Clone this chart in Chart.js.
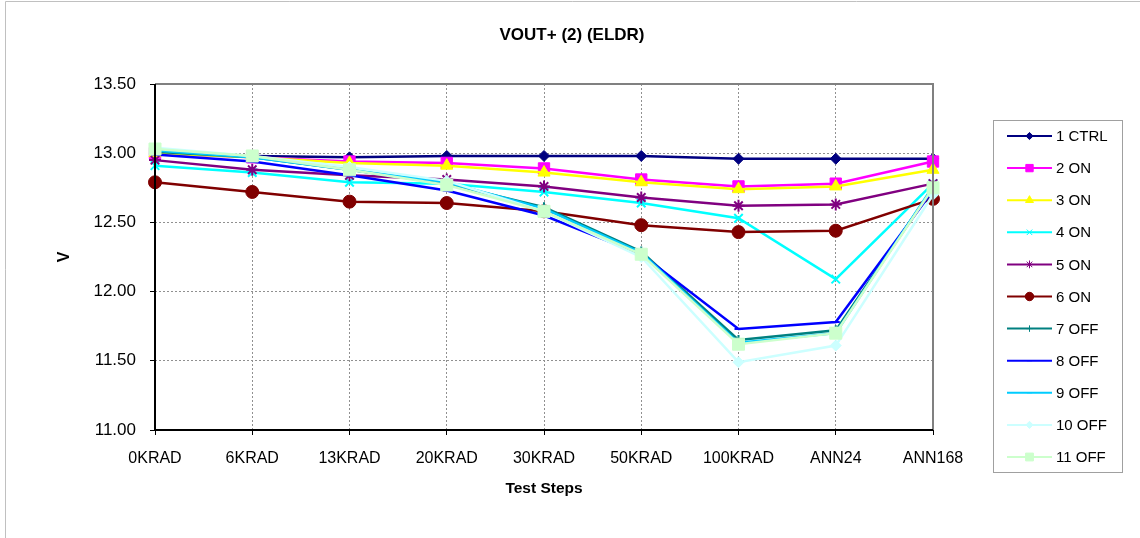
<!DOCTYPE html>
<html>
<head>
<meta charset="utf-8">
<title>VOUT+ (2) (ELDR)</title>
<script src="https://cdn.jsdelivr.net/npm/chart.js@4.4.1/dist/chart.umd.min.js"></script>
<style>
  html, body { margin: 0; padding: 0; background: #fff; }
  #wrap { width: 1140px; height: 538px; position: relative; }
</style>
</head>
<body>
<div id="wrap"><canvas id="vout"></canvas></div>
<script>
// pasos del ensayo (eje X)
const steps = ['0KRAD', '6KRAD', '13KRAD', '20KRAD', '30KRAD', '50KRAD', '100KRAD', 'ANN24', 'ANN168'];
const yTicks = [11.00, 11.50, 12.00, 12.50, 13.00, 13.50];

// valores (V)
const ctrl1 = [13.00, 12.98, 12.97, 12.98, 12.98, 12.98, 12.96, 12.96, 12.96];
const on2   = [13.00, 12.97, 12.94, 12.93, 12.89, 12.81, 12.76, 12.78, 12.94];
const on3   = [13.00, 12.97, 12.93, 12.91, 12.86, 12.79, 12.74, 12.76, 12.88];
const on4   = [12.91, 12.86, 12.79, 12.78, 12.72, 12.64, 12.53, 12.09, 12.78];
const on5   = [12.95, 12.88, 12.84, 12.81, 12.76, 12.68, 12.62, 12.63, 12.78];
const on6   = [12.79, 12.72, 12.65, 12.64, 12.58, 12.48, 12.43, 12.44, 12.67];
const off7  = [13.01, 12.97, 12.88, 12.78, 12.61, 12.29, 11.65, 11.72, 12.75];
const off8  = [12.99, 12.94, 12.84, 12.73, 12.55, 12.27, 11.73, 11.78, 12.73];
const off9  = [13.02, 12.97, 12.88, 12.79, 12.60, 12.28, 11.63, 11.70, 12.76];
const off10 = [13.04, 12.98, 12.90, 12.80, 12.58, 12.25, 11.49, 11.61, 12.70];
const off11 = [13.03, 12.98, 12.88, 12.77, 12.58, 12.27, 11.62, 11.70, 12.75];

const seriesNames = ['1 CTRL', '2 ON', '3 ON', '4 ON', '5 ON', '6 ON', '7 OFF', '8 OFF', '9 OFF', '10 OFF', '11 OFF'];
const seriesData = [ctrl1, on2, on3, on4, on5, on6, off7, off8, off9, off10, off11];

// estilos por serie
const colors  = ['#000080', '#FF00FF', '#FFFF00', '#00FFFF', '#800080', '#800000', '#008080', '#0000FF', '#00CCFF', '#CCFFFF', '#CCFFCC'];
const markers = ['rectRot', 'rect', 'triangle', 'crossRot', 'star', 'circle', 'cross', 'line', 'line', 'rectRot', 'rect'];
const radii   = [5.5, 8, 7, 6, 6, 6.5, 5, 4, 4, 5.5, 8.5];

const FONT = '"Liberation Sans", Arial, sans-serif';
const TITLE = 'VOUT+ (2) (ELDR)';

const datasets = seriesNames.map((name, i) => ({
  label: name,
  data: seriesData[i],
  borderColor: colors[i],
  backgroundColor: colors[i],
  borderWidth: 2.5,
  pointStyle: markers[i],
  pointRadius: radii[i],
  pointBorderWidth: (markers[i] === 'line' || markers[i].startsWith('cross') || markers[i] === 'star') ? 2 : 1,
  tension: 0,
  order: seriesNames.length - i   // la ultima serie queda encima
}));

// marco exterior, titulo y bordes del area de trazado
const frame = {
  id: 'frame',
  beforeDraw(chart) {
    const ctx = chart.ctx;
    ctx.save();
    ctx.fillStyle = '#fff';
    ctx.fillRect(0, 0, chart.width, chart.height);
    ctx.strokeStyle = '#c0c0c0';
    ctx.lineWidth = 1;
    ctx.beginPath();
    ctx.moveTo(5.5, chart.height);
    ctx.lineTo(5.5, 1.5);
    ctx.lineTo(chart.width, 1.5);
    ctx.stroke();
    ctx.fillStyle = '#000';
    ctx.font = 'bold 17px ' + FONT;
    ctx.textAlign = 'center';
    ctx.textBaseline = 'middle';
    ctx.fillText(TITLE, 572, 35);
    ctx.restore();
  },
  afterDatasetsDraw(chart) {
    const { ctx, chartArea: a } = chart;
    ctx.save();
    ctx.strokeStyle = '#808080';
    ctx.lineWidth = 2;
    ctx.beginPath();
    ctx.moveTo(a.left, a.top);
    ctx.lineTo(a.right, a.top);
    ctx.lineTo(a.right, a.bottom);
    ctx.stroke();
    ctx.strokeStyle = '#000';
    ctx.beginPath();
    ctx.moveTo(a.left, a.top);
    ctx.lineTo(a.left, a.bottom);
    ctx.lineTo(a.right, a.bottom);
    ctx.stroke();
    ctx.restore();
  }
};

// leyenda con recuadro, linea + marcador
const legendBox = {
  id: 'legendBox',
  afterDraw(chart) {
    const ctx = chart.ctx;
    ctx.save();
    ctx.strokeStyle = '#a0a0a0';
    ctx.lineWidth = 1;
    ctx.strokeRect(993.5, 120.5, 129, 352);
    chart.data.datasets.forEach((ds, i) => {
      const y = 136 + i * 32.1;
      ctx.strokeStyle = ds.borderColor;
      ctx.fillStyle = ds.backgroundColor;
      ctx.lineWidth = 2;
      ctx.beginPath();
      ctx.moveTo(1007, y);
      ctx.lineTo(1052, y);
      ctx.stroke();
      ctx.lineWidth = 1;
      Chart.helpers.drawPoint(ctx, {
        pointStyle: ds.pointStyle,
        radius: ds.pointRadius * 0.65,
        borderWidth: 1,
        rotation: 0
      }, 1029.5, y);
      ctx.fillStyle = '#000';
      ctx.font = '15px ' + FONT;
      ctx.textBaseline = 'middle';
      ctx.textAlign = 'left';
      ctx.fillText(ds.label, 1056, y + 1);
    });
    ctx.restore();
  }
};

new Chart(document.getElementById('vout'), {
  type: 'line',
  data: { labels: steps, datasets: datasets },
  plugins: [frame, legendBox],
  options: {
    responsive: true,
    maintainAspectRatio: false,
    animation: false,
    layout: { padding: { left: 0, right: 207, top: 84, bottom: 0 } },
    plugins: {
      legend: { display: false },
      tooltip: { enabled: false },
      title: { display: false }
    },
    scales: {
      x: {
        offset: false,
        afterFit(scale) { scale.height = 108; },
        grid: {
          color: '#909090',
          lineWidth: 1,
          drawTicks: true,
          tickLength: 5,
          tickColor: '#000'
        },
        border: { display: false, dash: [2, 2] },
        ticks: {
          color: '#000',
          padding: 14,
          maxRotation: 0,
          autoSkip: false,
          font: { family: FONT, size: 16 }
        },
        title: {
          display: true,
          text: 'Test Steps',
          color: '#000',
          font: { family: FONT, size: 15.5, weight: 'bold', lineHeight: 1.2 },
          padding: { top: 0, bottom: 39.7 }
        }
      },
      y: {
        min: 11,
        max: 13.5,
        afterFit(scale) { scale.width = 155; },
        afterBuildTicks(scale) { scale.ticks = yTicks.map(v => ({ value: v })); },
        grid: {
          color: '#909090',
          lineWidth: 1,
          drawTicks: true,
          tickLength: 5,
          tickColor: '#000'
        },
        border: { display: false, dash: [2, 2] },
        ticks: {
          color: '#000',
          padding: 14,
          font: { family: FONT, size: 17 },
          callback: v => Number(v).toFixed(2)
        },
        title: {
          display: true,
          text: 'V',
          color: '#000',
          font: { family: FONT, size: 16, weight: 'bold', lineHeight: 1.2 },
          padding: { top: 55.4, bottom: 0 }
        }
      }
    }
  }
});
</script>
</body>
</html>
